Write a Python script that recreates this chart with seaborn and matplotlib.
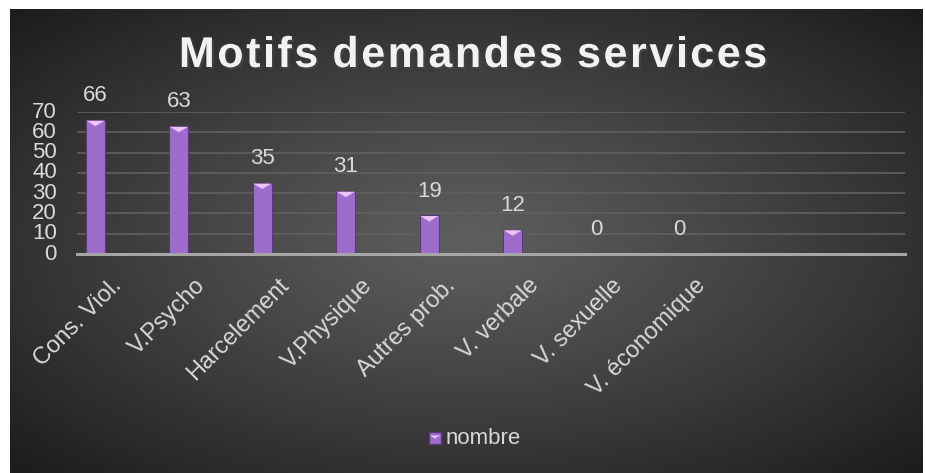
"""Motifs demandes services - bar chart on dark radial background."""

import matplotlib.pyplot as plt
import matplotlib.patheffects as pe
import matplotlib.transforms as mtransforms
import numpy as np
import pandas as pd
import seaborn as sns

categories = ["Cons. Viol.", "V.Psycho", "Harcelement", "V.Physique",
              "Autres prob.", "V. verbale", "V. sexuelle", "V. économique"]
nombre = [66, 63, 35, 31, 19, 12, 0, 0]
y_ticks = [0, 10, 20, 30, 40, 50, 60, 70]
title = "Motifs demandes services"

TEXT = "#d9d9d9"
BAR = "#9e6ccc"
EDGE = "#5a3a78"
BEVEL = "#ecc4f8"

sns.set_theme(style="dark")
plt.rcParams["font.family"] = ["Liberation Sans", "DejaVu Sans"]

W, H = 925, 473
fig = plt.figure(figsize=(W / 100, H / 100), dpi=100, facecolor="white")

# radial dark background
bg = fig.add_axes([10 / W, 0, (W - 12) / W, (H - 9) / H])
gx, gy = np.meshgrid(np.linspace(-1, 1, 400), np.linspace(-1, 1, 200))
r = np.sqrt(gx ** 2 + gy ** 2) / np.sqrt(2)
shade = 0.37 - 0.26 * np.clip(r, 0, 1) ** 1.1
bg.imshow(shade, cmap="gray", vmin=0, vmax=1, aspect="auto",
          extent=[0, 1, 0, 1], interpolation="bicubic")
bg.set_axis_off()

# plot area: x from 77 to 905 px, baseline at 254, 70 at 112
left, right = 77, 905
base, top = 254, 112
ax = fig.add_axes([left / W, (H - base) / H, (right - left) / W, (base - top) / H])
ax.patch.set_alpha(0)

df = pd.DataFrame({"motif": categories, "nombre": nombre})
sns.barplot(data=df, x="motif", y="nombre", color=BAR, width=0.23,
            saturation=1, edgecolor=EDGE, linewidth=0.8, ax=ax)

# light bevel on bar tops
bevel = [(-1, 0), (1, 0), (0, -0.6)]
for i, v in enumerate(nombre):
    if v > 0:
        ax.scatter(i, v - 0.3, marker=bevel, s=170, color=BEVEL,
                   edgecolor="none", zorder=5, clip_on=False)

for i, v in enumerate(nombre):
    ax.text(i, v + 12, str(v), ha="center", va="center", color=TEXT, fontsize=16)

ax.set_xlim(-0.22, 9.7)
ax.set_ylim(0, 70)
ax.set_yticks(y_ticks)
ax.set_yticklabels([str(t) for t in y_ticks], color=TEXT, fontsize=16)
ax.tick_params(axis="y", length=0, pad=14.5)
ax.tick_params(axis="x", length=0, pad=0)
ax.set_xticks(range(len(categories)))
ax.set_xticklabels(categories, rotation=45, ha="right", va="center",
                   rotation_mode="anchor", color=TEXT, fontsize=17)
shift = mtransforms.ScaledTranslation(23 / 100, -28 / 100, fig.dpi_scale_trans)
for lbl in ax.get_xticklabels():
    lbl.set_transform(lbl.get_transform() + shift)
for lbl in ax.get_yticklabels():
    lbl.set_va("center")

ax.grid(axis="y", color="#606060", linewidth=1.2)
ax.grid(axis="x", visible=False)
ax.set_xlabel("")
ax.set_ylabel("")
for side in ["top", "right", "left"]:
    ax.spines[side].set_visible(False)
ax.spines["bottom"].set_color("#a6a6a6")
ax.spines["bottom"].set_linewidth(2.2)
ax.set_axisbelow(True)

# overlay axes in pixel coords for title and legend
over = fig.add_axes([0, 0, 1, 1])
over.set_axis_off()
over.set_xlim(0, W)
over.set_ylim(H, 0)

# letter-spaced title
renderer = fig.canvas.get_renderer()
spacing = 2.6
widths = []
for ch in title:
    t = over.text(0, 0, ch, fontsize=31, fontweight="bold")
    widths.append(t.get_window_extent(renderer).width if ch != " " else 9.0)
    t.remove()
total = sum(widths) + spacing * (len(title) - 1)
x = 473 - total / 2
for ch, w in zip(title, widths):
    over.text(x, 56, ch, ha="left", va="center", fontsize=31, fontweight="bold",
              color="#f2f2f2",
              path_effects=[pe.withSimplePatchShadow(offset=(1.5, -1.5), alpha=0.6)])
    x += w + spacing

# legend
over.scatter([435], [438], marker="s", s=70, color=BAR, edgecolor=EDGE)
over.scatter([435], [435.5], marker=bevel, s=55, color=BEVEL, edgecolor="none")
over.text(446, 438, "nombre", ha="left", va="center", color=TEXT, fontsize=16)

fig.savefig("out.png", dpi=100)
